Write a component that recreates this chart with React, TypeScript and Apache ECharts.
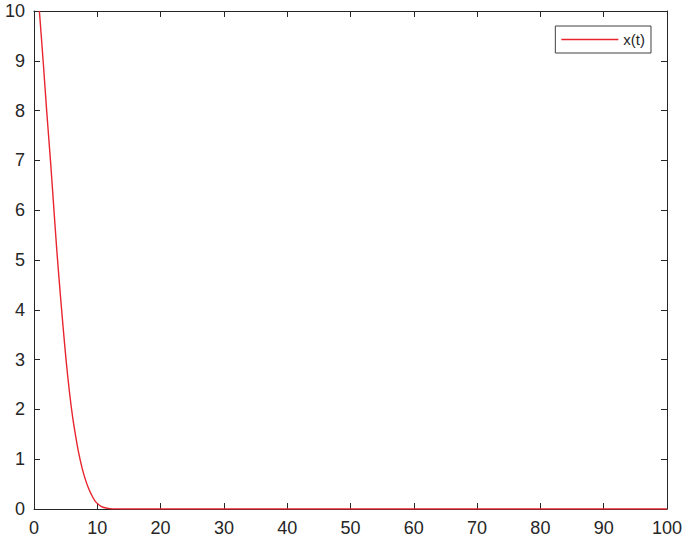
import React, { useEffect, useRef } from "react";
import * as echarts from "echarts";

const tValues = [0.85, 1.5, 2.0, 2.6, 3.1, 3.6, 4.1, 4.6, 5.1, 5.6, 6.1, 6.6, 7.1, 7.6, 8.1, 8.6, 9.1, 9.6, 10.1, 10.6, 11.2, 12, 13, 14, 20, 40, 60, 80, 100];
const xValues = [10, 8.9, 8.0, 7.0, 6.1, 5.2, 4.4, 3.65, 2.95, 2.35, 1.85, 1.45, 1.1, 0.82, 0.6, 0.42, 0.28, 0.17, 0.1, 0.055, 0.025, 0.008, 0.002, 0, 0, 0, 0, 0, 0];
const seriesName = "x(t)";
const xTicks = [0, 10, 20, 30, 40, 50, 60, 70, 80, 90, 100];
const yTicks = [0, 1, 2, 3, 4, 5, 6, 7, 8, 9, 10];

export default function App() {
  const ref = useRef<HTMLDivElement>(null);
  useEffect(() => {
    if (!ref.current) return;
    const chart = echarts.init(ref.current, null, { renderer: "svg" });
    const axisColor = "#262626";
    const lineColor = "#e8242e";
    const font = "'Liberation Sans', Arial, sans-serif";
    const lineAxis = { show: true, onZero: false, lineStyle: { color: axisColor, width: 1 } };
    const tickAxis = { show: true, inside: true, length: 6, lineStyle: { color: axisColor } };
    chart.setOption({
      animation: false,
      backgroundColor: "#ffffff",
      grid: { left: 34, top: 11, right: 18, bottom: 36 },
      legend: {
        right: 34,
        top: 26,
        backgroundColor: "#ffffff",
        borderColor: "#404040",
        borderWidth: 1,
        borderRadius: 0,
        padding: [5, 6, 5, 6],
        icon: "rect",
        itemWidth: 57,
        itemHeight: 1.5,
        itemGap: 5,
        itemStyle: { color: lineColor, borderWidth: 0 },
        textStyle: { fontFamily: font, fontSize: 15, color: axisColor, lineHeight: 17 },
        data: [seriesName],
      },
      xAxis: [
        {
          type: "value",
          min: xTicks[0],
          max: xTicks[xTicks.length - 1],
          interval: 10,
          position: "bottom",
          splitLine: { show: false },
          axisLine: lineAxis,
          axisTick: tickAxis,
          axisLabel: { show: true, color: axisColor, fontSize: 18, fontFamily: font, margin: 10 },
        },
        {
          type: "value",
          min: xTicks[0],
          max: xTicks[xTicks.length - 1],
          interval: 10,
          position: "top",
          splitLine: { show: false },
          axisLine: lineAxis,
          axisTick: tickAxis,
          axisLabel: { show: false },
        },
      ],
      yAxis: [
        {
          type: "value",
          min: yTicks[0],
          max: yTicks[yTicks.length - 1],
          interval: 1,
          position: "left",
          splitLine: { show: false },
          axisLine: lineAxis,
          axisTick: tickAxis,
          axisLabel: { show: true, color: axisColor, fontSize: 18, fontFamily: font, margin: 9 },
        },
        {
          type: "value",
          min: yTicks[0],
          max: yTicks[yTicks.length - 1],
          interval: 1,
          position: "right",
          splitLine: { show: false },
          axisLine: lineAxis,
          axisTick: tickAxis,
          axisLabel: { show: false },
        },
      ],
      series: [
        {
          name: seriesName,
          type: "line",
          data: tValues.map((t, i) => [t, xValues[i]]),
          symbol: "none",
          smooth: 0.3,
          clip: true,
          lineStyle: { color: lineColor, width: 1.4 },
          itemStyle: { color: lineColor },
        },
      ],
    });
    return () => chart.dispose();
  }, []);
  return (
    <div
      ref={ref}
      style={{ position: "fixed", left: 0, top: 0, width: 685, height: 545 }}
    />
  );
}
